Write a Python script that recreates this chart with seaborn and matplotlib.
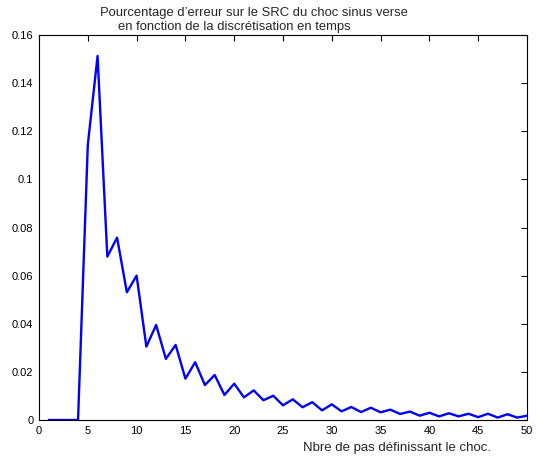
import matplotlib
matplotlib.use("Agg")
import matplotlib.pyplot as plt
import seaborn as sns
import pandas as pd

steps = list(range(1, 51))
errors = [0, 0, 0, 0, 0.1143, 0.1513, 0.0679, 0.0758, 0.0531, 0.0600,
          0.0305, 0.0395, 0.0254, 0.0312, 0.0172, 0.0240, 0.0145, 0.0187, 0.0104, 0.0151,
          0.0094, 0.0123, 0.0082, 0.0101, 0.0061, 0.0086, 0.0053, 0.0074, 0.0040, 0.0065,
          0.0036, 0.0054, 0.0033, 0.0051, 0.0032, 0.0043, 0.0025, 0.0035, 0.0018, 0.0030,
          0.0015, 0.0028, 0.0015, 0.0026, 0.0012, 0.0026, 0.0010, 0.0024, 0.0010, 0.0018]
xticks = list(range(0, 51, 5))
yticks = [0, 0.02, 0.04, 0.06, 0.08, 0.1, 0.12, 0.14, 0.16]
title_line1 = "Pourcentage d\u2019erreur sur le SRC du choc sinus verse"
title_line2 = "en fonction de la discrétisation en temps"
xlabel = "Nbre de pas définissant le choc."

sns.set_style("white")
plt.rcParams['font.family'] = ['Liberation Sans', 'DejaVu Sans']

fig = plt.figure(figsize=(5.42, 4.63), dpi=100)
ax = fig.add_axes([39/542, 1 - 420/463, (527-39)/542, (420-35)/463])
df = pd.DataFrame({"x": steps, "y": errors})
sns.lineplot(data=df, x="x", y="y", ax=ax, color=(0, 0, 1), linewidth=1.7)
ax.set_xlim(0, 50)
ax.set_ylim(0, 0.16)
ax.set_xticks(xticks)
ax.set_xticklabels([f"{t:g}" for t in xticks])
ax.set_yticks(yticks)
ax.set_yticklabels([f"{t:g}" for t in yticks])
ax.set_xlabel("")
ax.set_ylabel("")
ax.tick_params(direction="in", top=True, right=True, labelsize=8, length=4, width=0.8, colors="black", pad=4)
for s in ax.spines.values():
    s.set_visible(True)
    s.set_color("black")
    s.set_linewidth(0.8)
fig.text(253.5/542, 1 - 13/463, title_line1, ha="center", va="center", fontsize=9.4)
fig.text(234.5/542, 1 - 27/463, title_line2, ha="center", va="center", fontsize=9.4)
fig.text(397/542, 1 - 448/463, xlabel, ha="center", va="center", fontsize=9.5)
fig.savefig("out.png", dpi=100, facecolor="white")
